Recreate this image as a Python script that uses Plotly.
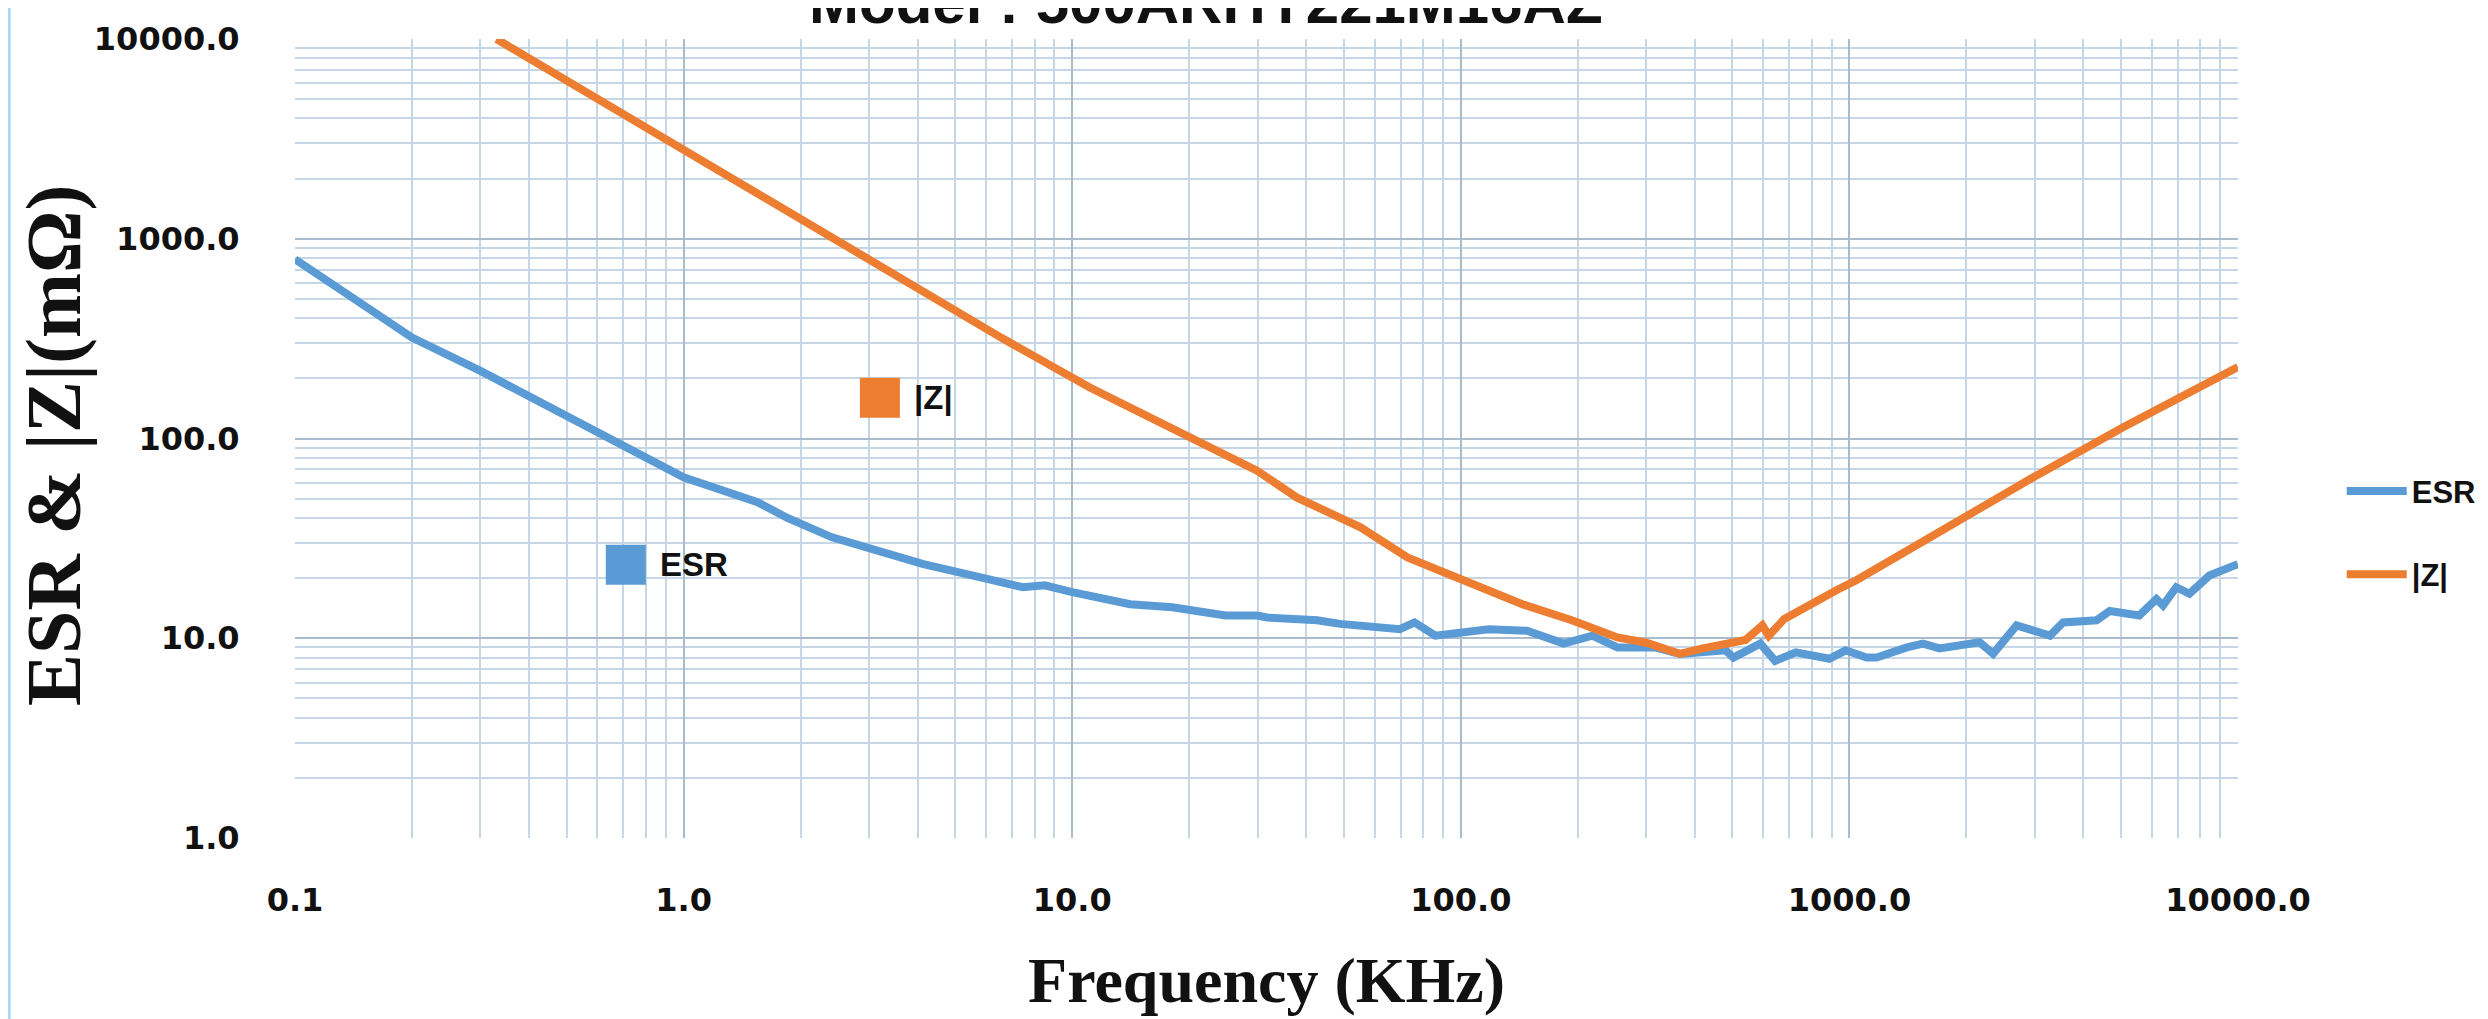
import math
import plotly.graph_objects as go

# ---------------- data ----------------
freq_esr = [0.1, 0.142, 0.2, 0.3, 0.405, 0.613, 1.0, 1.55, 1.85, 2.41, 4.14, 5.56, 7.46, 8.5, 10.0,
            14.1, 18.1, 24.8, 29.9, 31.8, 42.7, 48.9, 69.7, 76, 86, 118, 148, 184, 218, 253, 316,
            366, 480, 503, 590, 644, 728, 888, 978, 1107, 1175, 1406, 1546, 1706, 2162, 2344,
            2692, 3281, 3548, 4325, 4677, 5572, 6166, 6413, 6937, 7500, 8440, 9770, 10000]
esr_mohm = [790, 507, 320, 218, 160, 105, 64, 48, 40, 32, 23.5, 20.6, 18.0, 18.4, 17.0,
            14.8, 14.3, 13.0, 13.0, 12.7, 12.3, 11.8, 11.1, 12.0, 10.3, 11.1, 10.9, 9.4, 10.3, 9.0, 9.0,
            8.35, 8.7, 8.0, 9.4, 7.7, 8.5, 7.9, 8.7, 8.0, 8.0, 9.0, 9.4, 8.9, 9.55, 8.35,
            11.6, 10.3, 12.0, 12.3, 13.7, 13.0, 15.7, 14.6, 18.0, 16.7, 20.6, 23.1, 23.5]

freq_z = [0.33, 1.77, 6.56, 11.1, 20.4, 29.9, 37.8, 55.2, 72.9, 102, 118, 144, 193, 253, 300,
          366, 420, 480, 540, 597, 620, 680, 764, 931, 1042, 1270, 1406, 1885, 2966, 5050, 9770, 10000]
z_mohm = [10000, 1430, 320, 180, 101, 69, 50.7, 35.9, 25.4, 19.4, 17.5, 14.8, 12.3, 10.1, 9.5,
          8.35, 8.9, 9.4, 9.8, 11.6, 10.3, 12.5, 14.3, 17.5, 19.5, 24.4, 27.4, 37.3, 63.8, 113.5, 222, 228]

series_names = ["ESR", "|Z|"]
series_colors = ["#5B9BD5", "#ED7D31"]

x_tick_vals = [0.1, 1, 10, 100, 1000, 10000]
x_tick_text = ["0.1", "1.0", "10.0", "100.0", "1000.0", "10000.0"]
y_tick_vals = [1, 10, 100, 1000, 10000]
y_tick_text = ["1.0", "10.0", "100.0", "1000.0", "10000.0"]

title_text = "Model : 500ARHY221M16AZ"
x_title = "Frequency (KHz)"
y_title = "ESR &amp; |Z|(mΩ)"

# in-plot label anchors (data coordinates of the coloured squares)
label_x = [0.71, 3.2]
label_y = [23.3, 160]

# ---------------- figure ----------------
W, H = 2488, 1019
ML, MR, MT, MB = 287, 258, 31, 189
PW, PH = W - ML - MR, H - MT - MB

minor_x = [m * 10 ** e for e in range(-1, 4) for m in range(2, 10)]
minor_y = [m * 10 ** e for e in range(0, 4) for m in range(2, 10)]

label_font = dict(family="Liberation Sans", size=33, color="#111", weight="bold")

fig = go.Figure()
for name, fx, vals, col in [(series_names[0], freq_esr, esr_mohm, series_colors[0]),
                            (series_names[1], freq_z, z_mohm, series_colors[1])]:
    fig.add_trace(go.Scatter(x=fx, y=vals, mode="lines", name=name,
                             line=dict(color=col, width=8), legendgroup=name))

# coloured squares with labels inside the plot
for i in range(2):
    fig.add_trace(go.Scatter(x=[label_x[i]], y=[label_y[i]], mode="markers",
                             marker=dict(symbol="square", size=40, color=series_colors[i]),
                             showlegend=False, hoverinfo="skip"))
    fig.add_annotation(x=math.log10(label_x[i]), y=math.log10(label_y[i]), xref="x", yref="y",
                       text=series_names[i], showarrow=False, xanchor="left", xshift=32,
                       font=label_font)

# chart title (cut at the top edge, as in the reference)
fig.add_annotation(x=(1198 - ML) / PW, y=1, xref="paper", yref="paper", text=title_text,
                   showarrow=False, xanchor="center", yanchor="middle", yshift=37,
                   font=dict(family="Liberation Sans", size=60, color="#111", weight="bold"))

# y-axis title placed as a rotated annotation
fig.add_annotation(x=(45 - ML) / PW, y=1 - (438 - MT) / PH, xref="paper", yref="paper",
                   text=y_title, textangle=-90, showarrow=False,
                   xanchor="center", yanchor="middle",
                   font=dict(family="Liberation Serif", size=78, color="#111", weight="bold"))

tick_font = dict(family="DejaVu Sans", size=32, color="#111", weight="bold")
grid_major = "#a9bccd"
grid_minor = "#c5d7e6"

fig.update_layout(
    width=W, height=H, autosize=False,
    margin=dict(l=ML, r=MR, t=MT, b=MB, autoexpand=False),
    paper_bgcolor="white", plot_bgcolor="white",
    legend=dict(x=0.938, xref="container", y=0.485, yref="container", yanchor="middle",
                xanchor="left", font=dict(family="Liberation Sans", size=31, color="#111", weight="bold"),
                tracegroupgap=40, bgcolor="rgba(0,0,0,0)", itemwidth=60),
    showlegend=True,
)

fig.update_xaxes(
    type="log", range=[-1, 4], tickmode="array", tickvals=x_tick_vals, ticktext=x_tick_text,
    tickfont=tick_font, ticks="outside", ticklen=34, tickcolor="rgba(0,0,0,0)",
    showgrid=True, gridcolor=grid_major, gridwidth=2, zeroline=False, showline=False,
    automargin=False,
    minor=dict(tickmode="array", tickvals=minor_x, showgrid=True, gridcolor=grid_minor,
               gridwidth=2, ticks=""),
    title=dict(text=x_title, standoff=38,
               font=dict(family="Liberation Serif", size=64, color="#111", weight="bold")),
)
fig.update_yaxes(
    type="log", range=[0, 4], tickmode="array", tickvals=y_tick_vals, ticktext=y_tick_text,
    tickfont=tick_font, ticks="outside", ticklen=48, tickcolor="rgba(0,0,0,0)",
    showgrid=True, gridcolor=grid_major, gridwidth=2, zeroline=False, showline=False,
    automargin=False,
    minor=dict(tickmode="array", tickvals=minor_y, showgrid=True, gridcolor=grid_minor,
               gridwidth=2, ticks=""),
)

# thin light-blue frame lines on the left and bottom of the picture
fig.add_shape(type="line", xref="paper", yref="paper",
              x0=-ML / PW + 0.0006, x1=-ML / PW + 0.0006, y0=-MB / PH, y1=1 + MT / PH,
              line=dict(color="#a8d8f0", width=3), layer="below")
fig.add_shape(type="line", xref="paper", yref="paper",
              x0=-ML / PW, x1=1 + MR / PW, y0=-MB / PH + 0.003, y1=-MB / PH + 0.003,
              line=dict(color="#a8d8f0", width=3), layer="below")

fig.write_html("out.html")
